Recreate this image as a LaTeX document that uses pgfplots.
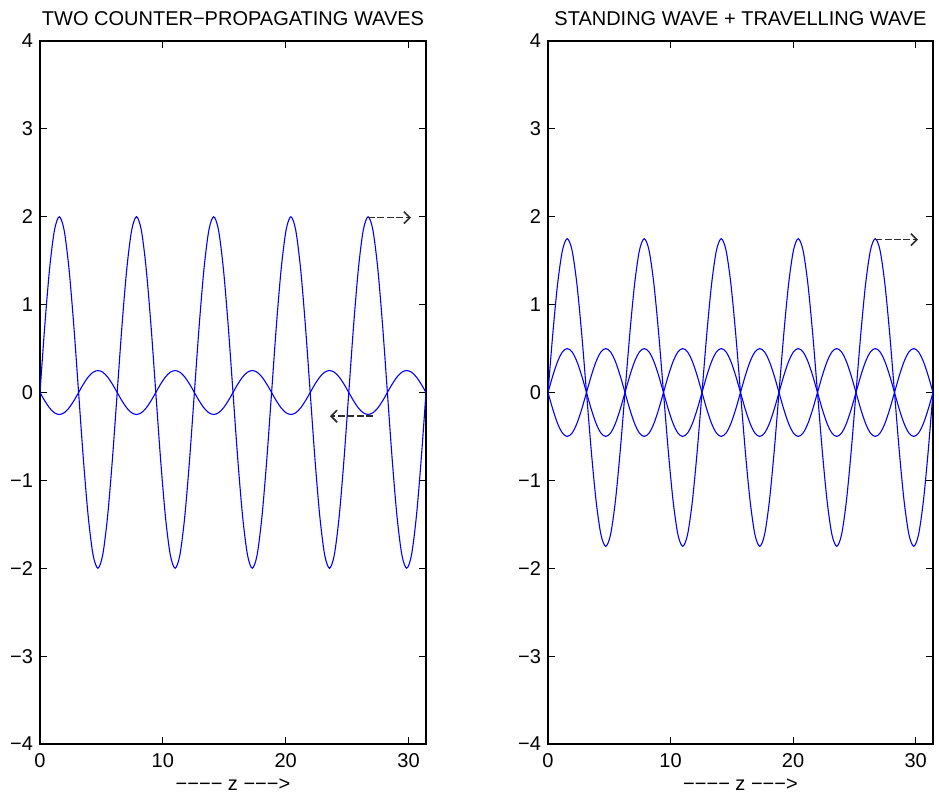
\documentclass[border=0pt]{standalone}
\usepackage{pgfplots}
\pgfplotsset{compat=1.18}
\usepackage{pgfplotstable}
\usepackage{fontspec}
\setmainfont{Liberation Sans}
\usetikzlibrary{arrows.meta}
\definecolor{arrowgray}{RGB}{45,45,45}

\pgfplotstableread{
z a b c d e
0.0000 0 0 0 0 0
0.3927 0.7654 -0.0957 0.6697 0.1913 -0.1913
0.7854 1.4142 -0.1768 1.2374 0.3536 -0.3536
1.1781 1.8478 -0.2310 1.6168 0.4619 -0.4619
1.5708 2 -0.25 1.75 0.5 -0.5
1.9635 1.8478 -0.2310 1.6168 0.4619 -0.4619
2.3562 1.4142 -0.1768 1.2374 0.3536 -0.3536
2.7489 0.7654 -0.0957 0.6697 0.1913 -0.1913
3.1416 0 0 0 0 0
3.5343 -0.7654 0.0957 -0.6697 -0.1913 0.1913
3.9270 -1.4142 0.1768 -1.2374 -0.3536 0.3536
4.3197 -1.8478 0.2310 -1.6168 -0.4619 0.4619
4.7124 -2 0.25 -1.75 -0.5 0.5
5.1051 -1.8478 0.2310 -1.6168 -0.4619 0.4619
5.4978 -1.4142 0.1768 -1.2374 -0.3536 0.3536
5.8905 -0.7654 0.0957 -0.6697 -0.1913 0.1913
6.2832 0 0 0 0 0
6.6759 0.7654 -0.0957 0.6697 0.1913 -0.1913
7.0686 1.4142 -0.1768 1.2374 0.3536 -0.3536
7.4613 1.8478 -0.2310 1.6168 0.4619 -0.4619
7.8540 2 -0.25 1.75 0.5 -0.5
8.2467 1.8478 -0.2310 1.6168 0.4619 -0.4619
8.6394 1.4142 -0.1768 1.2374 0.3536 -0.3536
9.0321 0.7654 -0.0957 0.6697 0.1913 -0.1913
9.4248 0 0 0 0 0
9.8175 -0.7654 0.0957 -0.6697 -0.1913 0.1913
10.2102 -1.4142 0.1768 -1.2374 -0.3536 0.3536
10.6029 -1.8478 0.2310 -1.6168 -0.4619 0.4619
10.9956 -2 0.25 -1.75 -0.5 0.5
11.3883 -1.8478 0.2310 -1.6168 -0.4619 0.4619
11.7810 -1.4142 0.1768 -1.2374 -0.3536 0.3536
12.1737 -0.7654 0.0957 -0.6697 -0.1913 0.1913
12.5664 0 0 0 0 0
12.9591 0.7654 -0.0957 0.6697 0.1913 -0.1913
13.3518 1.4142 -0.1768 1.2374 0.3536 -0.3536
13.7445 1.8478 -0.2310 1.6168 0.4619 -0.4619
14.1372 2 -0.25 1.75 0.5 -0.5
14.5299 1.8478 -0.2310 1.6168 0.4619 -0.4619
14.9226 1.4142 -0.1768 1.2374 0.3536 -0.3536
15.3153 0.7654 -0.0957 0.6697 0.1913 -0.1913
15.7080 0 0 0 0 0
16.1007 -0.7654 0.0957 -0.6697 -0.1913 0.1913
16.4934 -1.4142 0.1768 -1.2374 -0.3536 0.3536
16.8861 -1.8478 0.2310 -1.6168 -0.4619 0.4619
17.2788 -2 0.25 -1.75 -0.5 0.5
17.6715 -1.8478 0.2310 -1.6168 -0.4619 0.4619
18.0642 -1.4142 0.1768 -1.2374 -0.3536 0.3536
18.4569 -0.7654 0.0957 -0.6697 -0.1913 0.1913
18.8496 0 0 0 0 0
19.2423 0.7654 -0.0957 0.6697 0.1913 -0.1913
19.6350 1.4142 -0.1768 1.2374 0.3536 -0.3536
20.0277 1.8478 -0.2310 1.6168 0.4619 -0.4619
20.4204 2 -0.25 1.75 0.5 -0.5
20.8131 1.8478 -0.2310 1.6168 0.4619 -0.4619
21.2058 1.4142 -0.1768 1.2374 0.3536 -0.3536
21.5984 0.7654 -0.0957 0.6697 0.1913 -0.1913
21.9911 0 0 0 0 0
22.3838 -0.7654 0.0957 -0.6697 -0.1913 0.1913
22.7765 -1.4142 0.1768 -1.2374 -0.3536 0.3536
23.1692 -1.8478 0.2310 -1.6168 -0.4619 0.4619
23.5619 -2 0.25 -1.75 -0.5 0.5
23.9546 -1.8478 0.2310 -1.6168 -0.4619 0.4619
24.3473 -1.4142 0.1768 -1.2374 -0.3536 0.3536
24.7400 -0.7654 0.0957 -0.6697 -0.1913 0.1913
25.1327 0 0 0 0 0
25.5254 0.7654 -0.0957 0.6697 0.1913 -0.1913
25.9181 1.4142 -0.1768 1.2374 0.3536 -0.3536
26.3108 1.8478 -0.2310 1.6168 0.4619 -0.4619
26.7035 2 -0.25 1.75 0.5 -0.5
27.0962 1.8478 -0.2310 1.6168 0.4619 -0.4619
27.4889 1.4142 -0.1768 1.2374 0.3536 -0.3536
27.8816 0.7654 -0.0957 0.6697 0.1913 -0.1913
28.2743 0 0 0 0 0
28.6670 -0.7654 0.0957 -0.6697 -0.1913 0.1913
29.0597 -1.4142 0.1768 -1.2374 -0.3536 0.3536
29.4524 -1.8478 0.2310 -1.6168 -0.4619 0.4619
29.8451 -2 0.25 -1.75 -0.5 0.5
30.2378 -1.8478 0.2310 -1.6168 -0.4619 0.4619
30.6305 -1.4142 0.1768 -1.2374 -0.3536 0.3536
31.0232 -0.7654 0.0957 -0.6697 -0.1913 0.1913
31.4159 0 0 0 0 0
}\wavedata

\tikzset{
  arr/.style={arrowgray, line width=0.8pt, dash pattern=on 3.5pt off 1.2pt, -{Straight Barb[length=3pt,width=6pt,line width=0.8pt]}},
}
\pgfplotsset{
  every axis title shift=0pt,
  wave/.style={color=blue, line width=0.55pt, smooth, mark=none},
  mystyle/.style={
    scale only axis,
    width=193pt, height=351.5pt,
    xmin=0, xmax=31.4159, ymin=-4, ymax=4,
    xtick={0,10,20,30}, xticklabels={0,10,20,30},
    ytick={-4,-3,-2,-1,0,1,2,3,4},
    yticklabels={−4,−3,−2,−1,0,1,2,3,4},
    tick align=inside,
    major tick length=3.5pt,
    tick style={black, line width=0.5pt},
    axis line style={black, line width=0.6pt},
    xticklabel style={anchor=base, yshift=-12pt, font=\fontsize{10}{12}\selectfont},
    yticklabel style={font=\fontsize{10}{12}\selectfont},
    title style={at={(0.5,1)}, anchor=base, yshift=8pt, font=\fontsize{10}{12}\selectfont},
    xlabel style={at={(axis description cs:0.5,0)}, anchor=base, yshift=-23.5pt, font=\fontsize{10}{12}\selectfont},
    xlabel={−−−− z −−−>},
    clip=true,
  }
}

\begin{document}
\begin{tikzpicture}
\path[use as bounding box] (-20pt,-26.5pt) rectangle (449.5pt,372pt);
\begin{axis}[mystyle, at={(0pt,0pt)}, anchor=south west,
  title={TWO COUNTER−PROPAGATING WAVES}]
  \addplot[wave] table[x=z, y=a] {\wavedata};
  \addplot[wave] table[x=z, y=b] {\wavedata};
  \draw[arr] (axis cs:26.7,1.99) -- (axis cs:30.2,1.99);
  \draw[arr] (axis cs:27.1,-0.27) -- (axis cs:23.6,-0.27);
\end{axis}
\begin{axis}[mystyle, at={(254pt,0pt)}, anchor=south west, width=192.5pt,
  title={STANDING WAVE + TRAVELLING WAVE}]
  \addplot[wave] table[x=z, y=c] {\wavedata};
  \addplot[wave] table[x=z, y=d] {\wavedata};
  \addplot[wave] table[x=z, y=e] {\wavedata};
  \draw[arr] (axis cs:26.7,1.74) -- (axis cs:30.2,1.74);
\end{axis}
\end{tikzpicture}
\end{document}
